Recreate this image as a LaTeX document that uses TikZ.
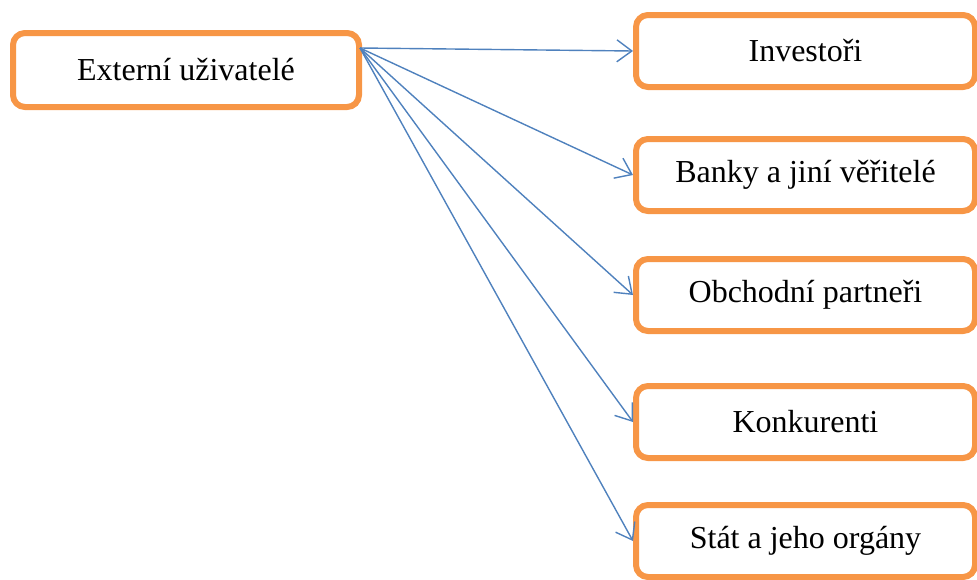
\documentclass[tikz,border=0pt]{standalone}
\usepackage{fontspec}
\setmainfont{Liberation Serif}
\usepackage{tikz}
\usetikzlibrary{arrows.meta, positioning}
\definecolor{boxline}{HTML}{F79646}
\definecolor{arrowblue}{HTML}{4F81BD}
\tikzset{
  userbox/.style={draw=boxline, line width=6pt, rounded corners=12pt,
    fill=white, font=\fontsize{32}{38}\selectfont, inner sep=0pt},
  flow/.style={draw=arrowblue, line width=1.4pt,
    -{Straight Barb[length=15pt, width=22pt, line width=1.4pt]}}
}

\begin{document}
\begin{tikzpicture}[x=1pt, y=1pt]
  \useasboundingbox (0,0) rectangle (977,-579);
  % source box
  \node[userbox, minimum width=346pt, minimum height=74pt] (ext) at (186,-70)
    {Externí uživatelé};
  \coordinate (src) at (360,-48);
  % target boxes
  \foreach \name/\y/\txt in {inv/51/Investoři, banky/175/Banky a jiní věřitelé,
                             obch/295/Obchodní partneři, konk/422/Konkurenti,
                             stat/541/Stát a jeho orgány}
  {
    \node[userbox, minimum width=339pt, minimum height=72pt] (\name) at (805.5,-\y)
      {\txt};
    \draw[flow] (src) -- (\name.west);
  }
\end{tikzpicture}
\end{document}
